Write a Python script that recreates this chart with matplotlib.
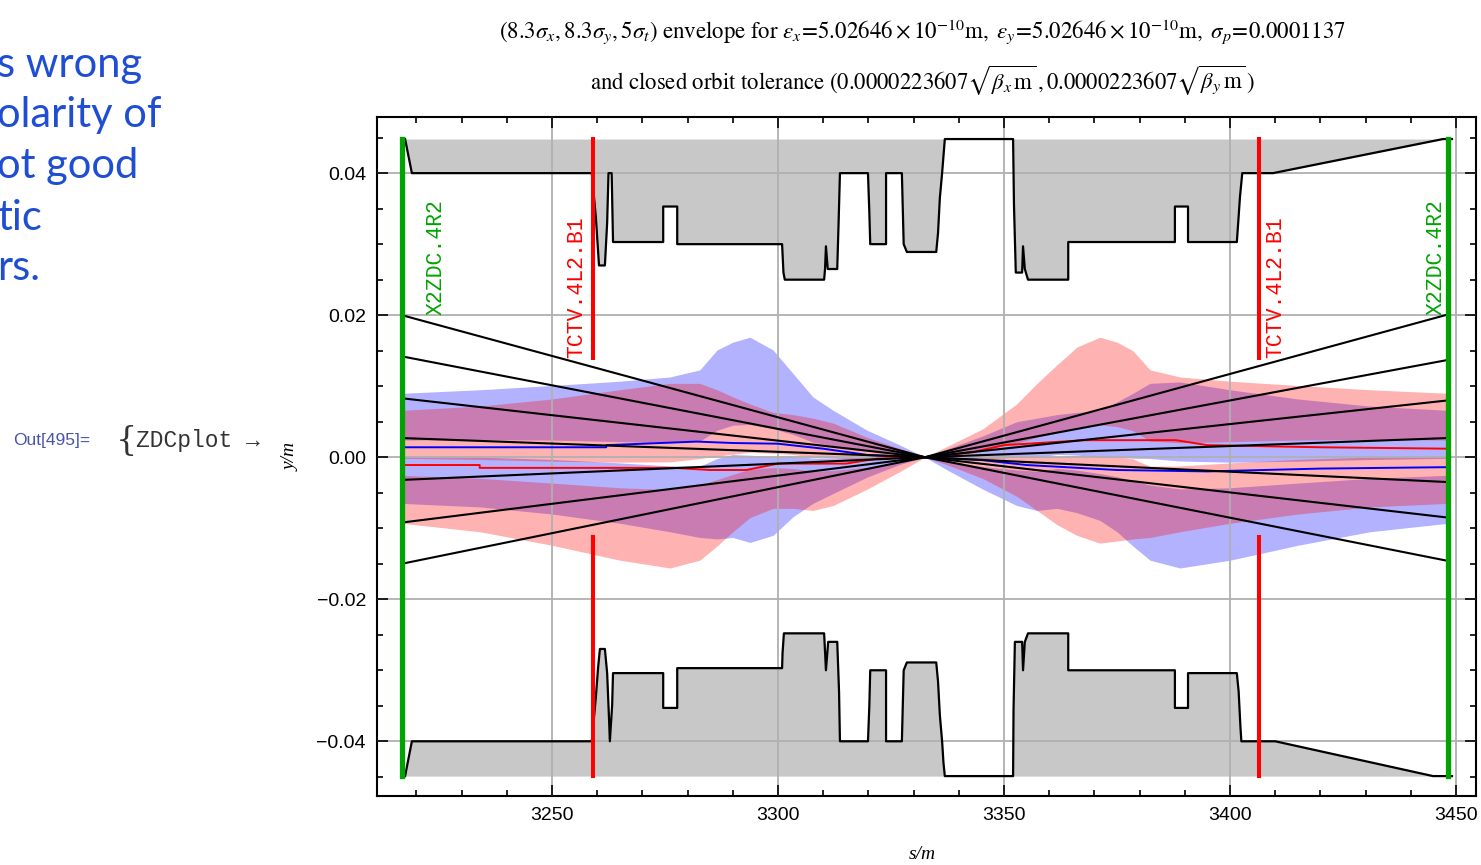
import numpy as np
import matplotlib
matplotlib.use("Agg")
import matplotlib.pyplot as plt

plt.rcParams['mathtext.fontset'] = 'stix'

# aperture, upper side (s in m, y in m)
ap_up_s = [3217.5, 3219.0, 3258.8, 3259.7, 3260.4, 3261.7, 3262.2, 3262.5, 3263.2, 3263.5,
           3274.6, 3274.6, 3277.7, 3277.7, 3300.9, 3301.2, 3301.5, 3310.2, 3310.4, 3310.6,
           3311.0, 3313.1, 3313.4, 3313.7, 3319.9, 3320.2, 3320.4, 3323.9, 3323.9, 3327.4,
           3327.8, 3328.5, 3335.0, 3335.4, 3335.8, 3336.3, 3336.9, 3352.0, 3352.2, 3352.6,
           3354.0, 3354.2, 3354.6, 3355.3, 3364.2, 3364.2, 3387.8, 3387.8, 3390.7, 3390.7,
           3401.5, 3401.8, 3402.2, 3402.7, 3409.5, 3447.1, 3449.1]
ap_up_y = [0.0448, 0.0400, 0.0400, 0.0338, 0.0270, 0.0270, 0.0330, 0.0400, 0.0400, 0.0303,
           0.0303, 0.0353, 0.0353, 0.0300, 0.0300, 0.0260, 0.0250, 0.0250, 0.0265, 0.0297,
           0.0265, 0.0265, 0.0330, 0.0400, 0.0400, 0.0345, 0.0300, 0.0300, 0.0400, 0.0400,
           0.0300, 0.0289, 0.0289, 0.0316, 0.0365, 0.0400, 0.0448, 0.0448, 0.0355, 0.0260,
           0.0260, 0.0297, 0.0265, 0.0250, 0.0250, 0.0303, 0.0303, 0.0353, 0.0353, 0.0303,
           0.0303, 0.0330, 0.0367, 0.0400, 0.0400, 0.0448, 0.0448]

# aperture, lower side
ap_lo_s = [3217.5, 3219.0, 3258.8, 3259.7, 3260.2, 3260.6, 3261.7, 3262.2, 3262.6, 3262.8,
           3263.3, 3263.5, 3274.6, 3274.6, 3277.7, 3277.7, 3300.9, 3301.0, 3301.3, 3310.2,
           3310.6, 3311.1, 3313.1, 3313.5, 3313.7, 3319.9, 3320.2, 3320.4, 3323.9, 3323.9,
           3327.4, 3327.8, 3328.5, 3335.0, 3335.4, 3335.8, 3336.3, 3336.6, 3336.9, 3352.0,
           3352.1, 3352.4, 3354.0, 3354.2, 3354.6, 3355.3, 3364.2, 3364.2, 3387.8, 3387.8,
           3390.7, 3390.7, 3401.5, 3401.9, 3402.3, 3402.5, 3410.0, 3444.9, 3449.1]
ap_lo_y = [-0.0449, -0.0400, -0.0400, -0.0338, -0.0296, -0.0270, -0.0270, -0.0304, -0.0366, -0.0400,
           -0.0350, -0.0304, -0.0304, -0.0353, -0.0353, -0.0297, -0.0297, -0.0276, -0.0248, -0.0248,
           -0.0300, -0.0260, -0.0260, -0.0330, -0.0400, -0.0400, -0.0350, -0.0300, -0.0300, -0.0400,
           -0.0400, -0.0300, -0.0289, -0.0289, -0.0316, -0.0363, -0.0400, -0.0430, -0.0449, -0.0449,
           -0.0356, -0.0260, -0.0260, -0.0300, -0.0260, -0.0248, -0.0248, -0.0300, -0.0300, -0.0353,
           -0.0353, -0.0304, -0.0304, -0.0330, -0.0380, -0.0400, -0.0400, -0.0449, -0.0449]
gray_top = 0.0448
gray_bot = -0.0449

# beam envelopes (blue and red beams)
env_s = [3216.8, 3234.1, 3250.0, 3265.0, 3276.1, 3282.7, 3286.5, 3290.0, 3293.8, 3298.9,
         3303.3, 3307.7, 3312.2, 3319.7, 3327.0, 3332.5, 3338.0, 3345.3, 3352.8, 3357.3,
         3361.7, 3366.1, 3371.2, 3375.0, 3378.5, 3382.3, 3388.9, 3400.0, 3415.0, 3430.9, 3448.2]
blue_hi = [0.0090, 0.0095, 0.0101, 0.0107, 0.0113, 0.0123, 0.0151, 0.0162, 0.0169, 0.0151,
           0.0118, 0.0085, 0.0066, 0.0038, 0.0017, 0.0, 0.0013, 0.0030, 0.0050, 0.0055,
           0.0060, 0.0063, 0.0066, 0.0078, 0.0090, 0.0104, 0.0106, 0.0095, 0.0082, 0.0072, 0.0066]
blue_lo = [-0.0065, -0.0070, -0.0080, -0.0093, -0.0105, -0.0113, -0.0115, -0.0113, -0.0120, -0.0110,
           -0.0084, -0.0065, -0.0051, -0.0028, -0.0010, 0.0, -0.0020, -0.0045, -0.0068, -0.0075,
           -0.0072, -0.0078, -0.0089, -0.0105, -0.0125, -0.0145, -0.0156, -0.0145, -0.0124, -0.0105, -0.0093]
red_hi = [0.0066, 0.0072, 0.0082, 0.0095, 0.0104, 0.0104, 0.0095, 0.0085, 0.0075, 0.0063,
          0.0060, 0.0055, 0.0048, 0.0028, 0.0012, 0.0, 0.0017, 0.0040, 0.0075, 0.0104,
          0.0130, 0.0155, 0.0169, 0.0162, 0.0150, 0.0123, 0.0113, 0.0107, 0.0101, 0.0095, 0.0090]
red_lo = [-0.0093, -0.0105, -0.0124, -0.0145, -0.0156, -0.0145, -0.0125, -0.0105, -0.0085, -0.0072,
          -0.0072, -0.0075, -0.0068, -0.0045, -0.0020, 0.0, -0.0012, -0.0030, -0.0055, -0.0075,
          -0.0095, -0.0110, -0.0121, -0.0118, -0.0115, -0.0113, -0.0105, -0.0093, -0.0080, -0.0070, -0.0065]
tol_frac = 0.15  # closed orbit tolerance gap inside each envelope

# closed orbits
orb_blue_s = [3216.8, 3262.0, 3262.0, 3282.0, 3290.0, 3300.0, 3310.0, 3320.0, 3332.5,
              3345.0, 3355.0, 3375.0, 3395.0, 3420.0, 3448.2]
orb_blue_y = [0.0014, 0.0014, 0.0017, 0.0022, 0.0020, 0.0019, 0.0012, 0.0003, 0.0,
              -0.0004, -0.0011, -0.0018, -0.0020, -0.0016, -0.0014]
orb_red_s = [3216.8, 3234.0, 3234.0, 3277.0, 3285.0, 3293.0, 3300.0, 3315.0, 3322.0, 3332.5,
             3343.0, 3350.0, 3368.0, 3388.0, 3395.0, 3420.0, 3448.2]
orb_red_y = [-0.0011, -0.0011, -0.0015, -0.0015, -0.0018, -0.0018, -0.0009, -0.0009, -0.0002, 0.0,
             0.0007, 0.0017, 0.0024, 0.0024, 0.0017, 0.0014, 0.0012]

# straight lines from the IP out to the ZDC
ray_s = [3216.8, 3332.5, 3448.2]
ray_left = [0.0200, 0.0142, 0.0083, 0.0027, -0.0032, -0.0092, -0.0150]
ray_right = [0.0201, 0.0137, 0.0080, 0.0027, -0.0035, -0.0085, -0.0146]

# elements
elem_names = ['X2ZDC.4R2', 'TCTV.4L2.B1', 'TCTV.4L2.B1', 'X2ZDC.4R2']
elem_s = [3216.8, 3259.1, 3406.4, 3448.2]
elem_col = ['#00a400', '#ff0000', '#ff0000', '#00a400']
label_s = [3224.3, 3255.5, 3410.2, 3445.6]
label_y = [0.0200, 0.0140, 0.0140, 0.0200]

xticks = [3250, 3300, 3350, 3400, 3450]
yticks = [-0.04, -0.02, 0.0, 0.02, 0.04]
ylabels = ['\u22120.04', '\u22120.02', '0.00', '0.02', '0.04']

fig = plt.figure(figsize=(14.81, 8.65), dpi=100)
ax = fig.add_axes([0.2546, 0.0798, 0.742, 0.7849])

ax.fill_between(ap_up_s, ap_up_y, gray_top, color='#c8c8c8', lw=0, zorder=1)
ax.fill_between(ap_lo_s, gray_bot, ap_lo_y, color='#c8c8c8', lw=0, zorder=1)

for hi, lo, col in [(blue_hi, blue_lo, (0, 0, 1, 0.3)), (red_hi, red_lo, (1, 0, 0, 0.3))]:
    hi = np.array(hi)
    lo = np.array(lo)
    c = (hi + lo) / 2
    g = tol_frac * (hi - lo) / 2
    ax.fill_between(env_s, c + g, hi, color=col, lw=0, zorder=1.5)
    ax.fill_between(env_s, lo, c - g, color=col, lw=0, zorder=1.5)

ax.plot(orb_blue_s, orb_blue_y, color='#0000ff', lw=1.4, zorder=3)
ax.plot(orb_red_s, orb_red_y, color='#ff0000', lw=1.4, zorder=3)

for yl, yr in zip(ray_left, ray_right):
    ax.plot(ray_s, [yl, 0, yr], color='black', lw=1.5, zorder=3.2)

ax.plot(ap_up_s, ap_up_y, color='black', lw=1.6, zorder=3.5)
ax.plot(ap_lo_s, ap_lo_y, color='black', lw=1.6, zorder=3.5)

for i in range(4):
    if elem_names[i].startswith('X2ZDC'):
        ax.plot([elem_s[i], elem_s[i]], [gray_bot, gray_top], color=elem_col[i], lw=3.8, zorder=4)
    else:
        ax.plot([elem_s[i], elem_s[i]], [0.0140, gray_top], color=elem_col[i], lw=2.9, zorder=4)
        ax.plot([elem_s[i], elem_s[i]], [gray_bot, -0.0113], color=elem_col[i], lw=2.9, zorder=4)
    ax.text(label_s[i], label_y[i], elem_names[i], color=elem_col[i], rotation=90,
            ha='center', va='bottom', fontsize=15.5, family='Liberation Mono', zorder=5)

ax.set_xlim(3211.3, 3454.4)
ax.set_ylim(-0.0477, 0.0479)
ax.set_xticks(xticks)
ax.set_xticks(np.arange(3220, 3455, 10), minor=True)
ax.set_yticks(yticks)
ax.set_yticklabels(ylabels)
ax.set_yticks(np.arange(-0.045, 0.0451, 0.005), minor=True)
ax.tick_params(which='both', direction='in', top=True, right=True, width=1.2,
               labelsize=14, pad=8)
ax.tick_params(which='major', length=8)
ax.tick_params(which='minor', length=4)
for lab in ax.get_xticklabels() + ax.get_yticklabels():
    lab.set_family('Liberation Sans')
ax.set_axisbelow(False)
ax.grid(True, which='major', color='#b0b0b0', lw=1.3)
for sp in ax.spines.values():
    sp.set_linewidth(1.5)

fig.text(0.1965, 0.4717, 'y/m', rotation=90, fontsize=14, family='Liberation Serif',
         style='italic', ha='center', va='center')
fig.text(0.6226, 0.012, 's/m', fontsize=14, family='Liberation Serif', style='italic',
         ha='center', va='center')

fig.text(0.6226, 0.963,
         r'$(8.3\sigma_x,8.3\sigma_y,5\sigma_t)\ \mathrm{envelope\ for}\ \epsilon_x\!=\!5.02646\times10^{-10}\mathrm{m},'
         r'\ \epsilon_y\!=\!5.02646\times10^{-10}\mathrm{m},\ \sigma_p\!=\!0.0001137$',
         fontsize=16.5, ha='center', va='center')
fig.text(0.6226, 0.906,
         r'$\mathrm{and\ closed\ orbit\ tolerance}\ (0.0000223607\sqrt{\beta_x\,\mathrm{m}}\,,0.0000223607\sqrt{\beta_y\,\mathrm{m}}\,)$',
         fontsize=16.4, ha='center', va='center')

# surrounding notebook text
notes = ['s wrong', 'olarity of', 'ot good', 'tic', 'rs.']
note_y = [65, 115, 166, 218, 268]
for t, yy in zip(notes, note_y):
    fig.text(-0.002, 1 - yy / 865, t, color='#1f4ed4', fontsize=30, family='Lato',
             ha='left', va='center')
fig.text(13 / 1481, 1 - 441 / 865, 'Out[495]=', color='#4a55a8', fontsize=12.5,
         family='Liberation Sans', ha='left', va='center')
fig.text(116 / 1481, 1 - 441 / 865, '{', color='#333333', fontsize=24, family='DejaVu Serif',
         ha='left', va='center')
fig.text(136 / 1481, 1 - 440 / 865, 'ZDCplot \u2192', color='#333333', fontsize=16.5,
         family=['Liberation Mono', 'DejaVu Sans Mono'], ha='left', va='center')

fig.savefig('out.png', dpi=100)
